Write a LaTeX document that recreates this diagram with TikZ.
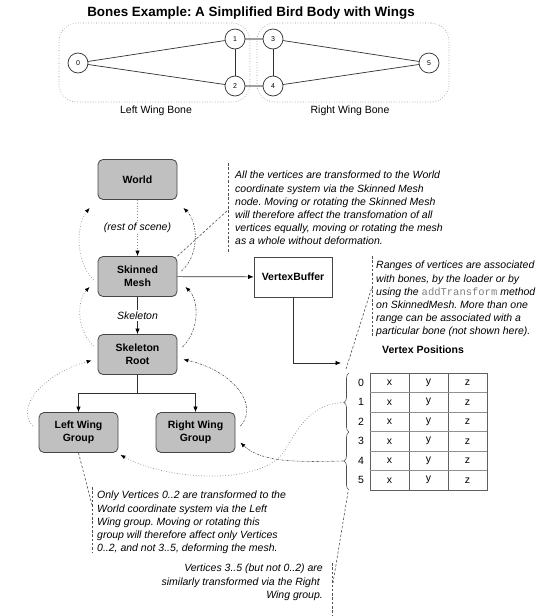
\documentclass[tikz,border=0pt]{standalone}
\usepackage{fontspec}
\setmainfont{Liberation Sans}
\setmonofont{Liberation Mono}
\usetikzlibrary{arrows.meta,decorations.pathreplacing,calc}
\newcommand{\myfs}{\fontsize{10.5}{13.2}\selectfont}
\definecolor{boxfill}{HTML}{C0C0C0}
\definecolor{boxline}{HTML}{454545}
\definecolor{lineC}{HTML}{303030}
\definecolor{dotC}{HTML}{8A8A8A}
\definecolor{dashC}{HTML}{505050}
\definecolor{tblC}{HTML}{606060}
\frenchspacing
\begin{document}
\frenchspacing
\begin{tikzpicture}[x=1pt,y=-1pt,
  box/.style={draw=boxline, fill=boxfill, rounded corners=5pt, minimum width=79pt, minimum height=40pt, font=\bfseries\myfs, align=center, line width=0.8pt, inner sep=1pt},
  vbox/.style={draw=boxline, fill=white, minimum width=78pt, minimum height=40pt, font=\bfseries\myfs, line width=0.7pt},
  circ/.style={circle, draw=lineC, fill=white, minimum size=20pt, inner sep=0pt, font=\fontsize{7}{8}\selectfont, line width=0.7pt},
  bonebox/.style={draw=dotC, dotted, rounded corners=18pt, line width=0.6pt, inner sep=0pt},
  bl/.style={draw=lineC, line width=0.7pt},
  bg/.style={draw=dotC!80, line width=1.3pt},
  note/.style={font=\itshape\myfs, align=left, inner sep=0pt, anchor=north west},
  lbl/.style={fill=white, font=\itshape\myfs, inner sep=1.5pt},
  arr/.style={-{Latex[length=5.5pt,width=4.5pt,color=black]}},
  conn/.style={draw=lineC, line width=0.7pt},
  dotl/.style={draw=dotC, dotted, line width=0.8pt},
  dotc/.style={draw=dotC, dotted, line width=0.7pt, -{Latex[length=5pt,width=4pt,color=black]}},
  ddc/.style={draw=dashC, dash pattern=on 2pt off 1.2pt on 0.6pt off 1.2pt, line width=0.6pt, -{Latex[length=5pt,width=4pt,color=black]}},
  dsh/.style={draw=dashC, dash pattern=on 2.5pt off 1.8pt, line width=0.6pt},
  cell/.style={font=\myfs, inner sep=0pt},
  brc/.style={draw=dashC, line width=0.6pt, decorate, decoration={brace, amplitude=5pt}}
]
\useasboundingbox (0,0) rectangle (556,616);
\fill[white] (0,0) rectangle (556,616);

% ---------- title and bird body ----------
\node[font=\bfseries\fontsize{13.4}{16}\selectfont, anchor=base, inner sep=0pt] (title) at (251,16.8) {Bones Example: A Simplified Bird Body with Wings};

\node[bonebox, minimum width=191pt, minimum height=79pt] (lbone) at (154.5,62.5) {};
\node[bonebox, minimum width=192pt, minimum height=79pt] (rbone) at (353,62.5) {};

\draw[bg] (235,39) -- (273,39);
\draw[bg] (235,86) -- (273,86);

\node[circ] (n0) at (78,63) {0};
\node[circ] (n1) at (235,39) {1};
\node[circ] (n2) at (235,86) {2};
\node[circ] (n3) at (273,39) {3};
\node[circ] (n4) at (273,86) {4};
\node[circ] (n5) at (429,63) {5};

\draw[bl] (n0) -- (n1);
\draw[bl] (n0) -- (n2);
\draw[bl] (n1) -- (n2);
\draw[bl] (n3) -- (n4);
\draw[bl] (n3) -- (n5);
\draw[bl] (n4) -- (n5);

\node[font=\myfs, anchor=base, inner sep=0pt] (lbl1) at (156,113.8) {Left Wing Bone};
\node[font=\myfs, anchor=base, inner sep=0pt] (lbl2) at (350,113.8) {Right Wing Bone};

% ---------- scene graph ----------
\node[box] (world) at (137.5,179.5) {World};
\node[box] (sm) at (137.5,276.5) {Skinned\\Mesh};
\node[box] (sr) at (137.5,354.5) {Skeleton\\Root};
\node[box] (lw) at (78.5,432.5) {Left Wing\\Group};
\node[box] (rw) at (195.5,432.5) {Right Wing\\Group};
\node[vbox] (vb) at (293,277) {VertexBuffer};

\draw[dotl, arr] (world) -- node[lbl] (rest) {(rest of scene)} (sm);
\draw[conn, arr] (sm) -- node[lbl] (skel) {Skeleton} (sr);
\draw[conn, arr] (sm) -- (vb);
\coordinate (vpin) at (341,363);
\draw[conn, arr] (vb.south) |- (vpin);
\coordinate (split) at (137.5,393);
\draw[conn] (sr.south) -- (split);
\draw[conn, arr] (split) -| (lw.north);
\draw[conn, arr] (split) -| (rw.north);

% curved parent links
\draw[dotc] ($(sm.south west)+(-4,-17)$) .. controls (75,262) and (76,225) .. ($(world.south west)+(-8,8)$);
\draw[ddc] ($(sm.north east)+(4,15)$) .. controls (200,255) and (198,222) .. ($(world.south east)+(6,8)$);
\draw[dotc] ($(sr.north west)+(-4,12)$) .. controls (76,330) and (77,300) .. ($(sm.south west)+(-8,-10)$);
\draw[ddc] ($(sr.north east)+(5,13)$) .. controls (200,330) and (199,300) .. ($(sm.south east)+(8,-10)$);
\draw[dotc] ($(lw.north west)+(-6,14)$) .. controls (14,405) and (48,372) .. ($(sr.west)+(-6,6)$);
\draw[ddc] ($(rw.north east)+(5,14)$) .. controls (260,405) and (232,370) .. ($(sr.east)+(6,5)$);

% ---------- vertex table ----------
\node[font=\bfseries\myfs, anchor=base, inner sep=0pt] (vphead) at (423,353.8) {Vertex Positions};
\draw[tblC, line width=0.7pt] (370,373) rectangle (487,490);
\foreach \xx in {409,448} { \draw[tblC, line width=0.7pt] (\xx,373) -- (\xx,490); }
\foreach \i in {1,...,5} { \draw[tblC!70, line width=0.7pt] (370,{373+19.5*\i}) -- (487,{373+19.5*\i}); }
\foreach \i in {0,...,5} {
  \node[cell] (r\i) at (361,{382.75+19.5*\i}) {\i};
  \node[cell] (x\i) at (389.5,{382.75+19.5*\i}) {x};
  \node[cell] (y\i) at (428.5,{382.75+19.5*\i}) {y};
  \node[cell] (z\i) at (467.5,{382.75+19.5*\i}) {z};
}
\draw[brc] (349,432) -- (349,373);
\draw[brc] (349,490) -- (349,432);
\coordinate (b1) at (343.5,402.5);
\coordinate (b2) at (343.5,461);

\draw[dotc] (b1) .. controls (312,404) and (300,425) .. (285,450) .. controls (265,485) and (170,482) .. ($(lw.south east)+(2,2)$);
\draw[ddc] (b2) .. controls (300,462) and (262,463) .. ($(rw.east)+(5,10)$);

% ---------- annotations ----------
\node[note] (a1) at (235,171) {All the vertices are transformed to the World\\coordinate system via the Skinned Mesh\\node. Moving or rotating the Skinned Mesh\\will therefore affect the transfomation of all\\vertices equally, moving or rotating the mesh\\as a whole without deformation.};
\coordinate (a1t) at (228,163);
\coordinate (a1b) at (228,253);
\coordinate (a1m) at (228,210);
\draw[dsh] (a1t) -- (a1b);
\draw[dsh] (sm.north east) -- (a1m);

\node[note] (a2) at (376,261) {Ranges of vertices are associated\\with bones, by the loader or by\\using the {\upshape\ttfamily\color{gray}addTransform} method\\on SkinnedMesh. More than one\\range can be associated with a\\particular bone (not shown here).};
\coordinate (a2t) at (372,256);
\coordinate (a2b) at (372,337);
\coordinate (a2m) at (372,287);
\coordinate (a2s) at (346,369);
\draw[dsh] (a2t) -- (a2b);
\draw[dsh] (a2s) -- (a2m);

\node[note] (a3) at (97,491) {Only Vertices 0..2 are transformed to the\\World coordinate system via the Left\\Wing group. Moving or rotating this\\group will therefore affect only Vertices\\0..2, and not 3..5, deforming the mesh.};
\coordinate (a3t) at (92,487);
\coordinate (a3b) at (92,552);
\coordinate (a3m) at (92,505);
\draw[dsh] (a3t) -- (a3b);
\draw[dsh] (lw.south) -- (a3m);

\node[note, align=right, anchor=north east] (a4) at (323,564) {Vertices 3..5 (but not 0..2) are\\similarly transformed via the Right\kern3pt\\Wing group.};
\coordinate (a4t) at (332,563);
\coordinate (a4b) at (332,615);
\coordinate (a4m) at (333,583);
\coordinate (a4s) at (348,492);
\draw[dsh] (a4t) -- (a4b);
\draw[dsh] (a4s) -- (a4m);
\end{tikzpicture}
\end{document}
